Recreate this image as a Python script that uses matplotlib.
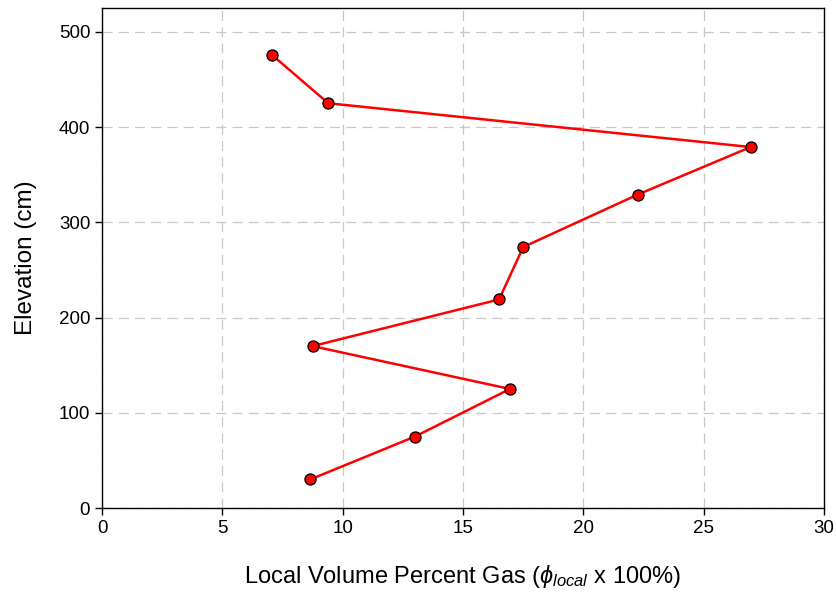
import matplotlib
matplotlib.use("Agg")
import matplotlib.pyplot as plt

plt.rcParams['font.family'] = ['Liberation Sans', 'DejaVu Sans']
plt.rcParams['mathtext.fontset'] = 'custom'
plt.rcParams['mathtext.rm'] = 'Liberation Sans'
plt.rcParams['mathtext.it'] = 'Liberation Sans:italic'

# Gas fraction profile along the column
gas_percent = [7.05, 9.4, 26.95, 22.25, 17.5, 16.5, 8.75, 16.95, 13.0, 8.65]
elevation_cm = [476, 425, 379, 329, 274, 219, 170, 125, 75, 30]

x_ticks = [0, 5, 10, 15, 20, 25, 30]
y_ticks = [0, 100, 200, 300, 400, 500]

fig = plt.figure(figsize=(8.37, 6.01), dpi=100)
ax = fig.add_axes([0.1219, 0.1547, 0.8626, 0.832])

ax.plot(gas_percent, elevation_cm, color='#ff0000', lw=1.8,
        marker='o', markersize=8, markerfacecolor='#ff0000',
        markeredgecolor='black', markeredgewidth=0.9, zorder=3)

ax.set_xlim(0, 30)
ax.set_ylim(0, 525)
ax.set_xticks(x_ticks)
ax.set_yticks(y_ticks)

ax.grid(True, color='#c8c8c8', linestyle=(0, (8, 5)), linewidth=0.9)
ax.set_axisbelow(True)

ax.tick_params(axis='both', direction='out', length=5, width=1,
               labelsize=13.5, top=False, right=False)
for s in ax.spines.values():
    s.set_linewidth(1)
    s.set_color('black')

ax.set_xlabel("Local Volume Percent Gas ($\\phi_{local}$ x 100%)", fontsize=17, labelpad=19)
ax.set_ylabel("Elevation (cm)", fontsize=17.5, labelpad=16)

fig.savefig("out.png", dpi=100)
